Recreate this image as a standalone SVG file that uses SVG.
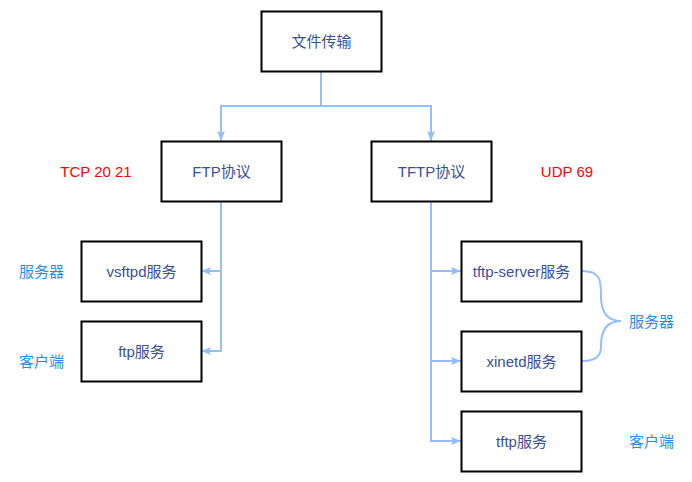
<svg xmlns="http://www.w3.org/2000/svg" width="692" height="482" viewBox="0 0 692 482">
<style>
.box{fill:#fff;stroke:#000;stroke-width:2}
.t{font-family:"Liberation Sans","Noto Sans CJK SC",sans-serif;font-size:15px;fill:#3a4f9c;text-anchor:middle;dominant-baseline:central}
.lb{font-family:"Liberation Sans","Noto Sans CJK SC",sans-serif;font-size:15px;fill:#1f8ef0;text-anchor:middle;dominant-baseline:central}
.red{font-family:"Liberation Sans","Noto Sans CJK SC",sans-serif;font-size:15px;fill:#ff0000;text-anchor:middle;dominant-baseline:central}
.c{fill:none;stroke:#94befd;stroke-width:2}
</style>
<defs>
<marker id="a" viewBox="0 0 10 10" refX="10" refY="5" markerWidth="5" markerHeight="4" orient="auto" markerUnits="strokeWidth" preserveAspectRatio="none">
<path d="M0,0 L10,5 L0,10 L2,5 Z" fill="#94befd"/>
</marker>
</defs>
<rect width="692" height="482" fill="#fff"/>
<g id="connectors">
<path class="c" d="M321,71 V106 H221 V141" marker-end="url(#a)"/>
<path class="c" d="M321,106 H431 V141" marker-end="url(#a)"/>
<path class="c" d="M221,201 V271 H201" marker-end="url(#a)"/>
<path class="c" d="M221,271 V351 H201" marker-end="url(#a)"/>
<path class="c" d="M431,201 V271 H461" marker-end="url(#a)"/>
<path class="c" d="M431,271 V361 H461" marker-end="url(#a)"/>
<path class="c" d="M431,361 V441 H461" marker-end="url(#a)"/>
<path class="c" d="M582,271 C601,271 601,281 601,296 C601,311 606,321 621,321"/>
<path class="c" d="M582,361 C601,361 601,351 601,346 C601,331 606,321 621,321"/>
</g>
<g id="n1"><rect class="box" x="261.5" y="11.5" width="120" height="60"/><text class="t" x="321.5" y="41.5">文件传输</text></g>
<g id="n2"><rect class="box" x="161.5" y="141.5" width="120" height="60"/><text class="t" x="221.5" y="171.5">FTP协议</text></g>
<g id="n3"><rect class="box" x="371.5" y="141.5" width="120" height="60"/><text class="t" x="431.5" y="171.5">TFTP协议</text></g>
<g id="n4"><rect class="box" x="81.5" y="241.5" width="120" height="60"/><text class="t" x="141.5" y="271.5">vsftpd服务</text></g>
<g id="n5"><rect class="box" x="81.5" y="321.5" width="120" height="60"/><text class="t" x="141.5" y="351.5">ftp服务</text></g>
<g id="n6"><rect class="box" x="461.5" y="241.5" width="120" height="60"/><text class="t" x="521.5" y="271.5">tftp-server服务</text></g>
<g id="n7"><rect class="box" x="461.5" y="331.5" width="120" height="60"/><text class="t" x="521.5" y="361.5">xinetd服务</text></g>
<g id="n8"><rect class="box" x="461.5" y="411.5" width="120" height="60"/><text class="t" x="521.5" y="441.5">tftp服务</text></g>
<g id="labels">
<text class="red" x="96" y="171.5">TCP 20 21</text>
<text class="red" x="567" y="171.5">UDP 69</text>
<text class="lb" x="41.5" y="271.5">服务器</text>
<text class="lb" x="41.5" y="361.5">客户端</text>
<text class="lb" x="651.5" y="321.5">服务器</text>
<text class="lb" x="651.5" y="441.5">客户端</text>
</g>
</svg>
